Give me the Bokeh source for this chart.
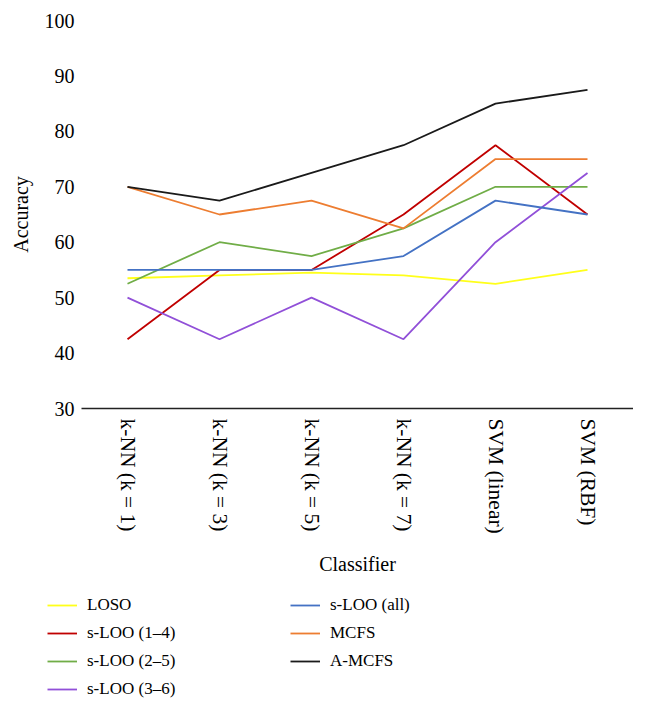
from bokeh.plotting import figure
from bokeh.models import FactorRange, Range1d, FixedTicker, Legend, LegendItem
from bokeh.embed import file_html
from bokeh.resources import INLINE

classifiers = ["k-NN (k = 1)", "k-NN (k = 3)", "k-NN (k = 5)", "k-NN (k = 7)",
               "SVM (linear)", "SVM (RBF)"]
y_ticks = [30, 40, 50, 60, 70, 80, 90, 100]

loso = [53.5, 54.0, 54.5, 54.0, 52.5, 55.0]
sloo_1_4 = [42.5, 55.0, 55.0, 65.0, 77.5, 65.0]
sloo_2_5 = [52.5, 60.0, 57.5, 62.5, 70.0, 70.0]
sloo_3_6 = [50.0, 42.5, 50.0, 42.5, 60.0, 72.5]
sloo_all = [55.0, 55.0, 55.0, 57.5, 67.5, 65.0]
mcfs = [70.0, 65.0, 67.5, 62.5, 75.0, 75.0]
a_mcfs = [70.0, 67.5, 72.5, 77.5, 85.0, 87.5]

series_names = ["LOSO", "s-LOO (1\u20134)", "s-LOO (2\u20135)", "s-LOO (3\u20136)",
                "s-LOO (all)", "MCFS", "A-MCFS"]
series_values = [loso, sloo_1_4, sloo_2_5, sloo_3_6, sloo_all, mcfs, a_mcfs]
series_colors = ["#FFFF1A", "#C00000", "#70AD47", "#9150D8", "#4472C4", "#ED7D31", "#1A1A1A"]
# legend reading order (two columns, filled row by row)
legend_order = [0, 4, 1, 5, 2, 6, 3]

FONT = "Liberation Serif"

p = figure(frame_width=552, frame_height=388, output_backend="svg", toolbar_location=None,
           x_range=FactorRange(factors=classifiers, range_padding=0),
           y_range=Range1d(30, 100),
           min_border_left=81, min_border_right=0, min_border_top=20, min_border_bottom=170)
p.outline_line_color = None
p.xgrid.visible = False
p.ygrid.visible = False
p.background_fill_color = "white"
p.border_fill_color = "white"

for vals, col in zip(series_values, series_colors):
    p.line(x=classifiers, y=vals, line_color=col, line_width=1.8)

# y axis
p.yaxis.ticker = FixedTicker(ticks=y_ticks)
p.yaxis.axis_line_color = None
p.yaxis.major_tick_line_color = None
p.yaxis.minor_tick_line_color = None
p.yaxis.major_tick_in = 0
p.yaxis.major_tick_out = 0
p.yaxis.major_label_standoff = 7
p.yaxis.axis_label = "Accuracy"
p.yaxis.axis_label_standoff = 10
p.yaxis.axis_label_text_font = FONT
p.yaxis.axis_label_text_font_style = "normal"
p.yaxis.axis_label_text_font_size = "20px"
p.yaxis.major_label_text_font = FONT
p.yaxis.major_label_text_font_size = "20px"
p.yaxis.major_label_text_color = "black"
p.yaxis.axis_label_text_color = "black"

# x axis
p.xaxis.axis_line_color = "#222222"
p.xaxis.axis_line_width = 1.5
p.xaxis.major_tick_line_color = None
p.xaxis.minor_tick_line_color = None
p.xaxis.major_tick_in = 0
p.xaxis.major_tick_out = 0
p.xaxis.major_label_orientation = "vertical"
p.xaxis.major_label_standoff = 10
p.xaxis.major_label_text_font = FONT
p.xaxis.major_label_text_font_size = "21.5px"
p.xaxis.major_label_text_color = "black"
p.xaxis.axis_label = "Classifier"
p.xaxis.axis_label_standoff = 16
p.xaxis.axis_label_text_font = FONT
p.xaxis.axis_label_text_font_style = "normal"
p.xaxis.axis_label_text_font_size = "20px"
p.xaxis.axis_label_text_color = "black"

# legend panel: same series drawn on a range where they fall out of view
lg = figure(width=633, height=128, output_backend="svg", toolbar_location=None,
            x_range=FactorRange(factors=classifiers, range_padding=0),
            y_range=Range1d(0, 1), x_axis_location=None, y_axis_location=None,
            min_border=0)
lg.outline_line_color = None
lg.xgrid.visible = False
lg.ygrid.visible = False
lg_renderers = []
for vals, col in zip(series_values, series_colors):
    lg_renderers.append(lg.line(x=classifiers, y=vals, line_color=col, line_width=1.8))

items = [LegendItem(label=series_names[i], renderers=[lg_renderers[i]]) for i in legend_order]
legend = Legend(items=items, ncols=2, orientation="horizontal",
                location=(47, 6),
                glyph_width=30, glyph_height=22, label_standoff=10, label_width=197,
                label_height=22, spacing=6, padding=0, margin=0,
                label_text_font="Liberation Serif, serif", label_text_font_size="17px",
                label_text_font_style="normal",
                label_text_color="black",
                border_line_color=None, background_fill_alpha=0)
lg.add_layout(legend, "center")

open("out.html", "w").write(file_html([p, lg], INLINE))
